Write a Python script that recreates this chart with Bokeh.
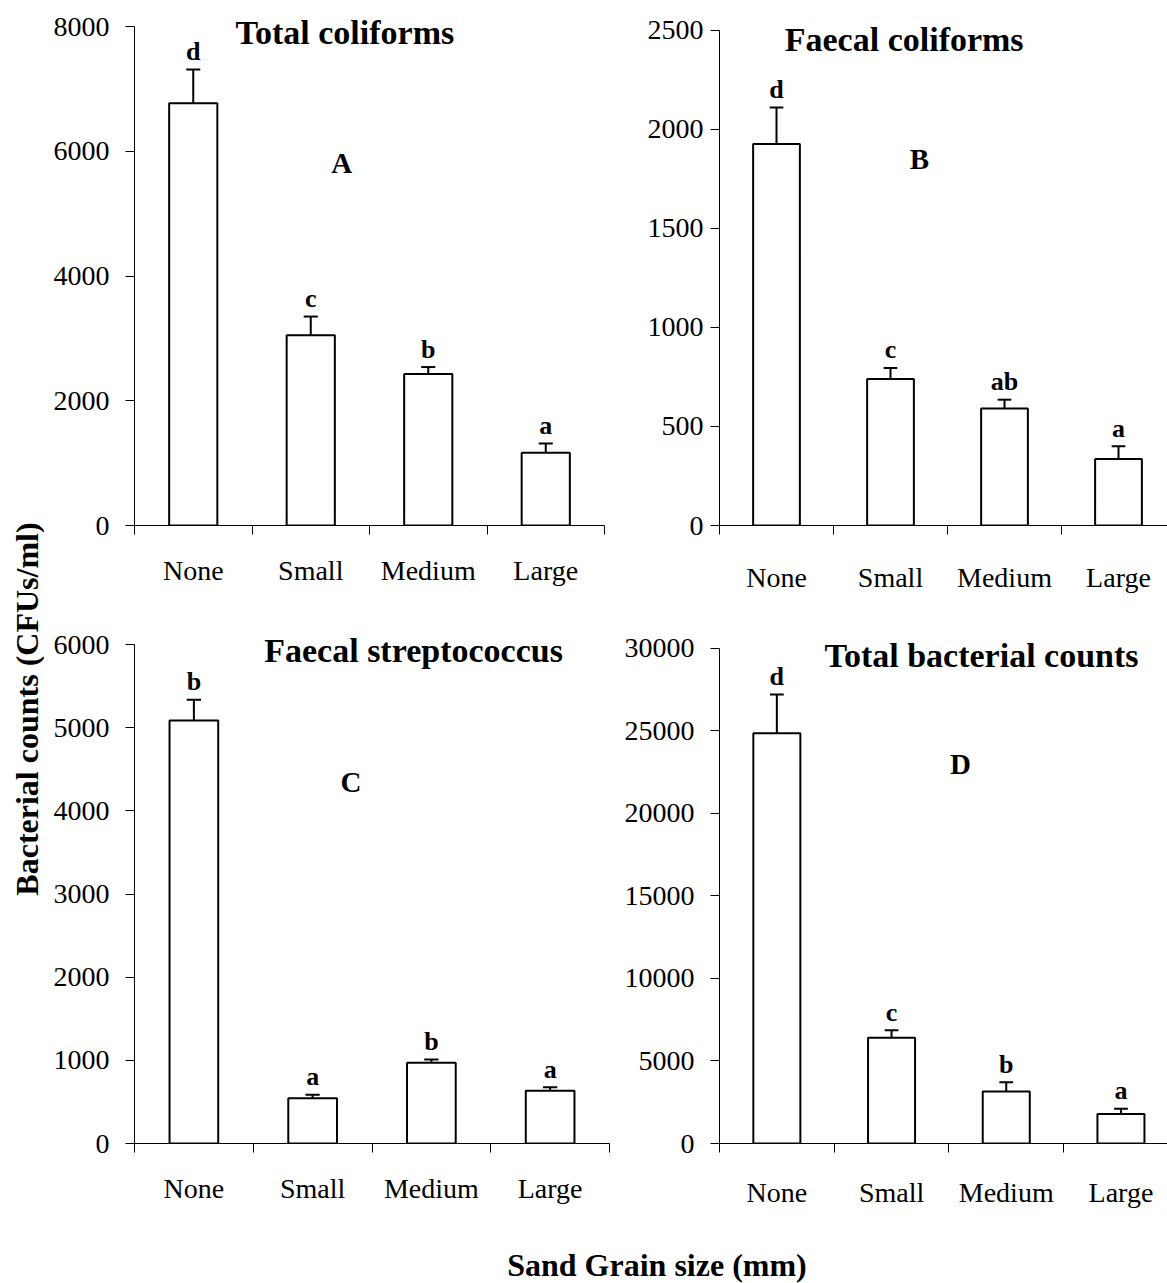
import math
from bokeh.plotting import figure
from bokeh.models import FixedTicker, LinearAxis, Range1d, Label, PrintfTickFormatter
from bokeh.layouts import row, column
from bokeh.embed import file_html
from bokeh.resources import INLINE
from bokeh.core.properties import value

FONT = "Liberation Serif"

categories = ["None", "Small", "Medium", "Large"]
x_title = "Sand Grain size (mm)"
y_title = "Bacterial counts (CFUs/ml)"

# A: Total coliforms
tc_values = [6770, 3050, 2430, 1165]
tc_errors = [540, 300, 110, 150]
tc_letters = ["d", "c", "b", "a"]

# B: Faecal coliforms
fc_values = [1925, 740, 590, 335]
fc_errors = [185, 55, 45, 65]
fc_letters = ["d", "c", "ab", "a"]

# C: Faecal streptococcus
fs_values = [5085, 545, 970, 635]
fs_errors = [250, 40, 40, 40]
fs_letters = ["b", "a", "b", "a"]

# D: Total bacterial counts
tb_values = [24850, 6400, 3150, 1780]
tb_errors = [2350, 460, 560, 330]
tb_letters = ["d", "c", "b", "a"]


def style_axis(ax, size="28px"):
    ax.axis_line_color = "black"
    ax.axis_line_width = 1
    ax.major_tick_line_color = "black"
    ax.major_tick_line_width = 1
    ax.major_tick_out = 9
    ax.major_tick_in = 0
    ax.minor_tick_line_color = None
    ax.major_label_text_font = FONT
    ax.major_label_text_font_size = size
    ax.major_label_text_color = "black"


def make_panel(values, errors, letters, title, tag, ymax, ystep, xspan,
               width, height, bl, top_px, bb, br, title_xy, tag_xy,
               ystandoff, xstandoff):
    centers = list(range(1, len(values) + 1))
    tops = [v + e for v, e in zip(values, errors)]
    # axis spans 0..ymax over the frame height below top_px; the frame itself
    # is extended up to the figure top so that texts are not clipped
    axis_px = height - top_px - bb
    y_end = ymax * (axis_px + top_px) / axis_px
    p = figure(width=width, height=height,
               x_range=Range1d(0.5, 0.5 + xspan), y_range=Range1d(0, y_end),
               output_backend="svg", toolbar_location=None,
               min_border_left=bl, min_border_right=br,
               min_border_top=0, min_border_bottom=bb)
    p.outline_line_color = None
    p.xgrid.visible = False
    p.ygrid.visible = False
    p.background_fill_color = "white"
    p.border_fill_color = "white"

    # y axis
    ya = p.yaxis[0]
    ya.ticker = FixedTicker(ticks=list(range(0, ymax + 1, ystep)))
    ya.formatter = PrintfTickFormatter(format="%d")
    ya.bounds = (0, ymax)
    style_axis(ya)
    ya.major_label_standoff = ystandoff

    # x axis with boundary ticks (no labels)
    xa = p.xaxis[0]
    xa.ticker = FixedTicker(ticks=[c - 0.5 for c in centers] + [centers[-1] + 0.5])
    style_axis(xa, size="1px")
    xa.major_label_text_color = None
    xa.major_label_standoff = 0

    # category label axis
    la = LinearAxis(ticker=FixedTicker(ticks=centers),
                    major_label_overrides={c: n for c, n in zip(centers, categories)})
    style_axis(la)
    la.axis_line_color = None
    la.major_tick_line_color = None
    la.major_tick_out = 0
    la.major_label_standoff = xstandoff
    p.add_layout(la, "below")

    p.vbar(x=centers, top=values, bottom=0, width=0.41,
           fill_color="white", line_color="black", line_width=2)
    p.segment(x0=centers, y0=values, x1=centers, y1=tops,
              line_color="black", line_width=2)
    p.segment(x0=[c - 0.06 for c in centers], y0=tops,
              x1=[c + 0.06 for c in centers], y1=tops,
              line_color="black", line_width=2)
    p.text(x=centers, y=tops, text=letters, text_font=value(FONT),
           text_font_style="bold", text_font_size="26px",
           text_align="center", text_baseline="alphabetic",
           y_offset=-18, text_color="black")

    p.add_layout(Label(x=title_xy[0], y=title_xy[1], text=title,
                       text_font=FONT, text_font_style="bold",
                       text_font_size="34px", text_align="center",
                       text_baseline="middle", text_color="black"))
    p.add_layout(Label(x=tag_xy[0], y=tag_xy[1], text=tag,
                       text_font=FONT, text_font_style="bold",
                       text_font_size="29px", text_align="center",
                       text_baseline="middle", text_color="black"))
    return p


pA = make_panel(tc_values, tc_errors, tc_letters, "Total coliforms", "A",
                8000, 2000, 4.0, 571, 610, 90, 26, 85, 11,
                (2.29, 7898), (2.264, 5817), 16, 20)
pB = make_panel(fc_values, fc_errors, fc_letters, "Faecal coliforms", "B",
                2500, 500, 448 / 114.0, 552, 610, 104, 30, 79, 0,
                (2.12, 2453), (2.254, 1850), 7, 27)
pC = make_panel(fs_values, fs_errors, fs_letters, "Faecal streptococcus", "C",
                6000, 1000, 4.0, 571, 610, 90, 34, 77, 6,
                (2.85, 5926), (2.323, 4342), 16, 20)
pD = make_panel(tb_values, tb_errors, tb_letters, "Total bacterial counts", "D",
                30000, 5000, 448 / 114.7, 552, 610, 104, 38, 73, 0,
                (2.784, 29530), (2.60, 23007), 16, 24)

lf = figure(width=44, height=1220, x_range=Range1d(0, 44), y_range=Range1d(0, 1220),
            output_backend="svg", toolbar_location=None, min_border=0,
            x_axis_location=None, y_axis_location=None)
lf.outline_line_color = None
lf.xgrid.visible = False
lf.ygrid.visible = False
lf.text(x=[26], y=[511.5], text=[y_title], angle=math.pi / 2,
        text_font=value(FONT), text_font_style="bold", text_font_size="32px",
        text_align="center", text_baseline="middle", text_color="black")

bf = figure(width=1167, height=63, x_range=Range1d(0, 1167), y_range=Range1d(0, 63),
            output_backend="svg", toolbar_location=None, min_border=0,
            x_axis_location=None, y_axis_location=None)
bf.outline_line_color = None
bf.xgrid.visible = False
bf.ygrid.visible = False
bf.text(x=[656.5], y=[19], text=[x_title],
        text_font=value(FONT), text_font_style="bold", text_font_size="32px",
        text_align="center", text_baseline="middle", text_color="black")

layout = column(row(lf, column(row(pA, pB), row(pC, pD))), bf)

open("out.html", "w").write(file_html(layout, INLINE))
